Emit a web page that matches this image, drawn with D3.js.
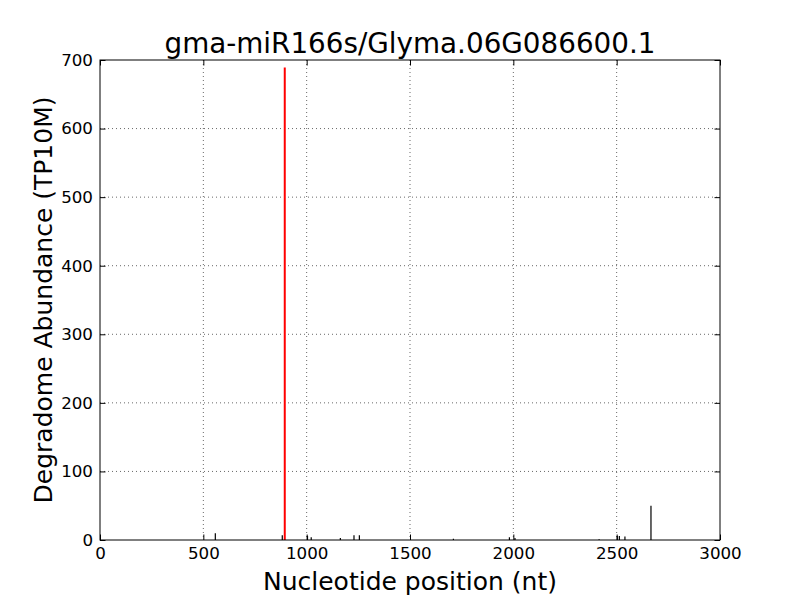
<!DOCTYPE html>
<html>
<head>
<meta charset="utf-8">
<script src="https://cdn.jsdelivr.net/npm/d3@7"></script>
<style>
  body { margin: 0; background: #fff; }
  text { font-family: "DejaVu Sans", sans-serif; }
</style>
</head>
<body>
<svg id="chart" width="800" height="600"></svg>
<script>
// Data
const title = "gma-miR166s/Glyma.06G086600.1";
const xLabel = "Nucleotide position (nt)";
const yLabel = "Degradome Abundance (TP10M)";
const positions = [558, 882, 1004, 1022, 1163, 1229, 1255, 1710, 1981, 2008, 2415, 2503, 2513, 2540, 2666];
const abundances = [10, 7, 6, 4, 3, 7, 7, 2, 4, 3, 1, 6, 6, 5, 50];
const targetPosition = [894];
const targetAbundance = [689];
const xTicks = [0, 500, 1000, 1500, 2000, 2500, 3000];
const yTicks = [0, 100, 200, 300, 400, 500, 600, 700];

const svg = d3.select("#chart");
const L = 100, R = 720, T = 60, B = 540;
const x = d3.scaleLinear().domain([0, 3000]).range([L, R]);
const y = d3.scaleLinear().domain([0, 700]).range([B, T]);

svg.append("rect").attr("width", 800).attr("height", 600).attr("fill", "#fff");

// grid
const grid = svg.append("g");
grid.selectAll(".gx").data(xTicks.slice(1, -1)).enter().append("line")
  .attr("x1", d => x(d)).attr("x2", d => x(d)).attr("y1", T).attr("y2", B)
  .attr("stroke", "#000").attr("stroke-width", 0.6).attr("stroke-dasharray", "1,3");
grid.selectAll(".gy").data(yTicks.slice(1, -1)).enter().append("line")
  .attr("y1", d => y(d)).attr("y2", d => y(d)).attr("x1", L).attr("x2", R)
  .attr("stroke", "#000").attr("stroke-width", 0.6).attr("stroke-dasharray", "1,3");

// black bars
svg.append("g").selectAll("line").data(positions).enter().append("line")
  .attr("x1", d => x(d)).attr("x2", d => x(d))
  .attr("y1", y(0)).attr("y2", (d, i) => y(abundances[i]))
  .attr("stroke", "#000").attr("stroke-width", 1.2);

// red target bar
svg.append("g").selectAll("line").data(targetPosition).enter().append("line")
  .attr("x1", d => x(d)).attr("x2", d => x(d))
  .attr("y1", y(0)).attr("y2", (d, i) => y(targetAbundance[i]))
  .attr("stroke", "#ff0000").attr("stroke-width", 2);

// axes (ticks inward, on all sides)
const tl = 5.5;
const fmt = d3.format("d");
svg.append("g").attr("transform", `translate(0,${B})`)
  .call(d3.axisBottom(x).tickValues(xTicks).tickFormat(fmt).tickSizeInner(-tl).tickSizeOuter(0).tickPadding(7))
  .call(g => g.select(".domain").remove());
svg.append("g").attr("transform", `translate(0,${T})`)
  .call(d3.axisTop(x).tickValues(xTicks).tickFormat("").tickSizeInner(-tl).tickSizeOuter(0))
  .call(g => g.select(".domain").remove());
svg.append("g").attr("transform", `translate(${L},0)`)
  .call(d3.axisLeft(y).tickValues(yTicks).tickFormat(fmt).tickSizeInner(-tl).tickSizeOuter(0).tickPadding(7))
  .call(g => g.select(".domain").remove());
svg.append("g").attr("transform", `translate(${R},0)`)
  .call(d3.axisRight(y).tickValues(yTicks).tickFormat("").tickSizeInner(-tl).tickSizeOuter(0))
  .call(g => g.select(".domain").remove());
svg.selectAll(".tick text").attr("font-size", 16.7).attr("fill", "#000")
  .attr("font-family", "DejaVu Sans, sans-serif");
svg.selectAll(".tick line").attr("stroke", "#000");

// frame
svg.append("rect").attr("x", L).attr("y", T).attr("width", R - L).attr("height", B - T)
  .attr("fill", "none").attr("stroke", "#000").attr("stroke-width", 1);

// labels
svg.append("text").attr("x", (L + R) / 2).attr("y", 53).attr("text-anchor", "middle")
  .attr("font-size", 27.8).text(title);
svg.append("text").attr("x", (L + R) / 2).attr("y", 590).attr("text-anchor", "middle")
  .attr("font-size", 25).text(xLabel);
svg.append("text").attr("transform", `translate(52,${(T + B) / 2}) rotate(-90)`)
  .attr("text-anchor", "middle").attr("font-size", 25).text(yLabel);
</script>
</body>
</html>
